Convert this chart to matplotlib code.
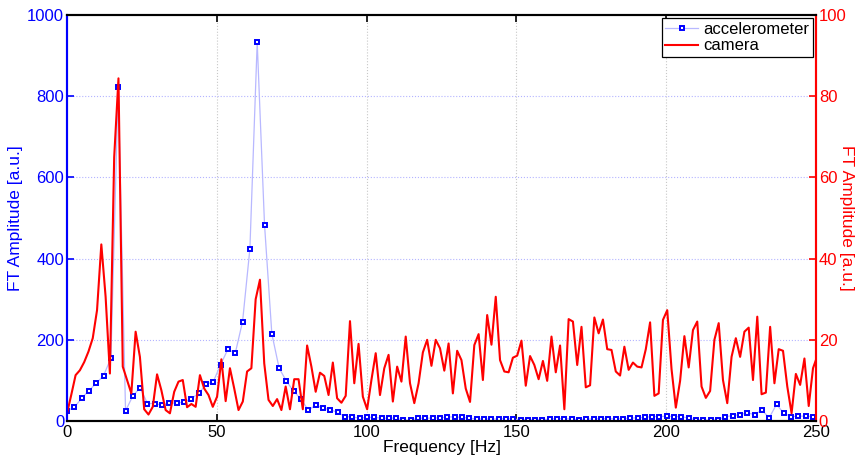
import numpy as np
import matplotlib
matplotlib.use("Agg")
from matplotlib import pyplot as plt

plt.rcParams['font.family'] = ['Liberation Sans', 'DejaVu Sans']
plt.rcParams['font.size'] = 12

# frequency resolution of each measurement
acc_step = 2.44140625
cam_step = 1.431

# accelerometer FT amplitude (left axis)
acc_amp = [25, 34, 56, 75, 93, 112, 155, 822, 25, 62,
           82, 43, 43, 39, 44, 44, 47, 55, 68, 90,
           97, 139, 177, 167, 245, 424, 933, 484, 215, 130,
           98, 73, 54, 26, 40, 31, 28, 21, 11, 10,
           7, 9, 9, 7, 7, 7, 2, 2, 7, 7,
           7, 8, 10, 10, 9, 7, 5, 5, 5, 5,
           6, 5, 3, 3, 3, 3, 5, 6, 6, 5,
           3, 5, 5, 6, 6, 5, 6, 7, 8, 9,
           11, 11, 12, 11, 11, 7, 3, 2, 2, 3,
           11, 13, 16, 20, 16, 27, 8, 41, 19, 11,
           12, 12, 11]

# camera FT amplitude (right axis)
cam_amp = [1.9, 6.5, 11.3, 12.5, 14.5, 17.1, 20.4, 27.3, 43.5, 30.6,
           11.7, 65.0, 84.4, 13.4, 10.1, 6.8, 22.0, 15.8, 2.9, 1.6,
           3.5, 11.5, 7.6, 2.7, 1.9, 7.2, 9.7, 10.1, 3.4, 4.2,
           3.5, 11.3, 8.0, 6.4, 3.5, 6.0, 15.2, 4.9, 13.0, 8.0,
           2.7, 4.8, 12.2, 13.0, 30.0, 34.8, 14.2, 5.2, 3.7, 5.4,
           2.7, 8.5, 2.9, 10.3, 10.3, 2.9, 18.6, 13.4, 7.2, 11.9,
           11.1, 6.4, 14.4, 5.6, 4.5, 6.2, 24.6, 9.3, 19.0, 6.0,
           2.9, 10.1, 16.7, 6.4, 13.0, 16.3, 4.8, 13.4, 9.7, 20.8,
           9.3, 4.4, 9.3, 16.9, 20.0, 13.6, 20.0, 17.9, 12.4, 19.1,
           6.8, 17.3, 15.0, 8.0, 4.7, 18.7, 21.4, 10.1, 26.1, 18.8,
           30.6, 15.0, 12.2, 12.0, 15.6, 16.1, 19.8, 8.7, 16.0, 13.8,
           10.3, 14.8, 9.9, 20.8, 12.0, 18.6, 2.9, 25.1, 24.5, 13.8,
           23.2, 8.3, 8.8, 25.5, 21.6, 25.0, 17.7, 17.5, 12.2, 11.2,
           18.3, 12.6, 14.4, 13.4, 13.2, 17.7, 24.3, 6.2, 6.8, 24.9,
           27.3, 12.8, 3.3, 9.9, 20.9, 13.2, 22.4, 24.5, 8.5, 5.7,
           7.4, 20.0, 24.1, 10.1, 4.4, 15.8, 20.4, 15.8, 22.0, 23.0,
           10.1, 25.7, 6.6, 7.0, 23.2, 9.3, 17.7, 17.3, 8.5, 1.9,
           11.6, 8.9, 15.4, 3.7, 13.0, 16.0]

acc_f = np.arange(len(acc_amp)) * acc_step
cam_f = np.arange(len(cam_amp)) * cam_step

blue = '#0000ff'
red = '#ff0000'

fig = plt.figure(figsize=(8.56, 4.62), dpi=100)
ax1 = fig.add_axes([0.0783, 0.0887, 0.8750, 0.8788])
ax2 = ax1.twinx()

# grid like matlab
for xv in [50, 100, 150, 200]:
    ax1.axvline(xv, color='#c8c8c8', lw=0.8, ls=':', zorder=0)
for yv in [200, 400, 600, 800]:
    ax1.axhline(yv, color='#b4b4ff', lw=0.8, ls=':', zorder=0)

l1, = ax1.plot(acc_f, acc_amp, color='#b8b8ff', lw=0.9, marker='s', ms=3.4,
               mfc='white', mec=blue, mew=1.4, label='accelerometer')
l2, = ax2.plot(cam_f, cam_amp, color=red, lw=1.5, label='camera')

ax1.set_xlim(0, 250)
ax1.set_ylim(0, 1000)
ax2.set_ylim(0, 100)
ax1.set_xticks([0, 50, 100, 150, 200, 250])
ax1.set_yticks([0, 200, 400, 600, 800, 1000])
ax2.set_yticks([0, 20, 40, 60, 80, 100])

ax1.set_xlabel('Frequency [Hz]', fontsize=12.5, labelpad=0)
ax1.set_ylabel('FT Amplitude [a.u.]', color=blue, fontsize=12.5, va='center')
ax1.yaxis.set_label_coords(-0.069, 0.5)
ax2.set_ylabel('FT Amplitude [a.u.]', color=red, fontsize=12.5,
               rotation=270, va='center')
ax2.yaxis.set_label_coords(1.041, 0.5)

ax1.tick_params(axis='x', direction='in', top=True, length=5, width=1.2,
                colors='black', pad=3, labelsize=12)
ax1.tick_params(axis='y', direction='in', length=5, width=1.2, colors=blue,
                labelsize=12, pad=2)
ax2.tick_params(axis='y', direction='in', length=5, width=1.2, colors=red,
                labelsize=12, pad=2)

ax1.spines['left'].set_color(blue)
ax1.spines['right'].set_color(red)
ax2.spines['left'].set_color(blue)
ax2.spines['right'].set_color(red)
for ax in (ax1, ax2):
    for s in ax.spines.values():
        s.set_linewidth(1.5)

leg = ax2.legend([l1, l2], ['accelerometer', 'camera'], loc='upper right',
                 fancybox=False, edgecolor='black', framealpha=1,
                 borderaxespad=0.2, handlelength=2.0, borderpad=0.2,
                 labelspacing=0.1, handletextpad=0.3, fontsize=12)
leg.get_frame().set_linewidth(0.9)

fig.savefig('out.png', dpi=100)
